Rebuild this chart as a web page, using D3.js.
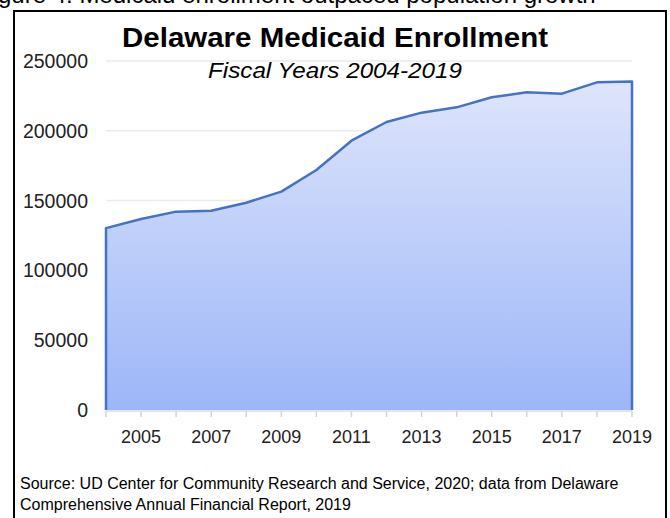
<!DOCTYPE html>
<html><head><meta charset="utf-8">
<script src="https://cdn.jsdelivr.net/npm/d3@7"></script>
<style>html,body{margin:0;padding:0;background:#fff;}svg{display:block;}</style>
</head><body>
<svg id="chart" width="670" height="518"></svg>
<script>
const years = [2004,2005,2006,2007,2008,2009,2010,2011,2012,2013,2014,2015,2016,2017,2018,2019];
const enrollment = [130300,136800,142100,142700,148500,156400,171900,192900,206300,213000,216800,224000,227600,226600,234700,235300];
const yTicks = [0,50000,100000,150000,200000,250000];
const xTickLabels = [2005,2007,2009,2011,2013,2015,2017,2019];
const titleText = "Delaware Medicaid Enrollment";
const subtitleText = "Fiscal Years 2004-2019";
const sourceLines = ["Source: UD Center for Community Research and Service, 2020; data from Delaware",
                     "Comprehensive Annual Financial Report, 2019"];

const svg = d3.select("#chart");
const x = d3.scaleLinear().domain([2004,2019]).range([106,632]);
const y = d3.scaleLinear().domain([0,250000]).range([410,61]);
const FONT = "Liberation Sans, Arial, sans-serif";

// cropped line of document text at very top
const defs = svg.append("defs");
defs.append("clipPath").attr("id","topclip").append("rect").attr("x",0).attr("y",0).attr("width",670).attr("height",9);
svg.append("text").attr("clip-path","url(#topclip)")
  .attr("x",-22).attr("y",3).attr("font-family",FONT).attr("font-size",24)
  .text("Figure 4. Medicaid enrollment outpaced population growth");

// frame
svg.append("rect").attr("x",14).attr("y",11).attr("width",652).attr("height",520)
  .attr("fill","none").attr("stroke","#000").attr("stroke-width",2);

// gradient
const grad = defs.append("linearGradient").attr("id","areaGrad")
  .attr("gradientUnits","userSpaceOnUse").attr("x1",0).attr("y1",y(250000)).attr("x2",0).attr("y2",y(0));
grad.append("stop").attr("offset","0%").attr("stop-color","#e2e8fc");
grad.append("stop").attr("offset","100%").attr("stop-color","#9db6f8");

// gridlines
svg.append("g").selectAll("line").data(yTicks.filter(d=>d>0)).join("line")
  .attr("x1",x(2004)).attr("x2",x(2019)).attr("y1",d=>y(d)).attr("y2",d=>y(d))
  .attr("stroke","#ebebeb").attr("stroke-width",1.5);

// baseline & ticks
svg.append("line").attr("x1",x(2004)).attr("x2",x(2019)).attr("y1",y(0)+1).attr("y2",y(0)+1)
  .attr("stroke","#dcdcdc").attr("stroke-width",1.5);
svg.append("g").selectAll("line").data(years).join("line")
  .attr("x1",d=>x(d)).attr("x2",d=>x(d)).attr("y1",y(0)+1).attr("y2",y(0)+7)
  .attr("stroke","#d4d4d4").attr("stroke-width",1.5);

const data = years.map((yr,i)=>({yr, v:enrollment[i]}));
const area = d3.area().x(d=>x(d.yr)).y0(y(0)).y1(d=>y(d.v));
svg.append("path").datum(data).attr("d",area).attr("fill","url(#areaGrad)");

// outline: left edge, top line, right edge
const outline = [{yr:years[0],v:0}, ...data, {yr:years[years.length-1],v:0}];
svg.append("path").datum(outline)
  .attr("d", d3.line().x(d=>x(d.yr)).y(d=>y(d.v)))
  .attr("fill","none").attr("stroke","#4472c4").attr("stroke-width",2.5).attr("stroke-linejoin","round");

// y labels
svg.append("g").selectAll("text").data(yTicks).join("text")
  .attr("x",88).attr("y",d=>y(d)).attr("dy","0.36em").attr("text-anchor","end")
  .attr("font-family",FONT).attr("font-size",19.5).attr("fill","#222")
  .text(d=>d);

// x labels
svg.append("g").selectAll("text").data(xTickLabels).join("text")
  .attr("x",d=>x(d)).attr("y",443).attr("text-anchor","middle")
  .attr("font-family",FONT).attr("font-size",18).attr("fill","#222")
  .text(d=>d);

// titles
svg.append("text").attr("x",122).attr("y",47)
  .attr("font-family",FONT).attr("font-weight","bold").attr("font-size",28.5)
  .attr("textLength",426).attr("lengthAdjust","spacingAndGlyphs")
  .attr("fill","#000").text(titleText);
svg.append("text").attr("x",208).attr("y",78)
  .attr("font-family",FONT).attr("font-style","italic").attr("font-size",21.5)
  .attr("textLength",254).attr("lengthAdjust","spacingAndGlyphs")
  .attr("fill","#000").text(subtitleText);

// source
svg.append("g").selectAll("text").data(sourceLines).join("text")
  .attr("x",20).attr("y",(d,i)=>489+i*21)
  .attr("font-family",FONT).attr("font-size",16).attr("fill","#000")
  .text(d=>d);
</script>
</body></html>
